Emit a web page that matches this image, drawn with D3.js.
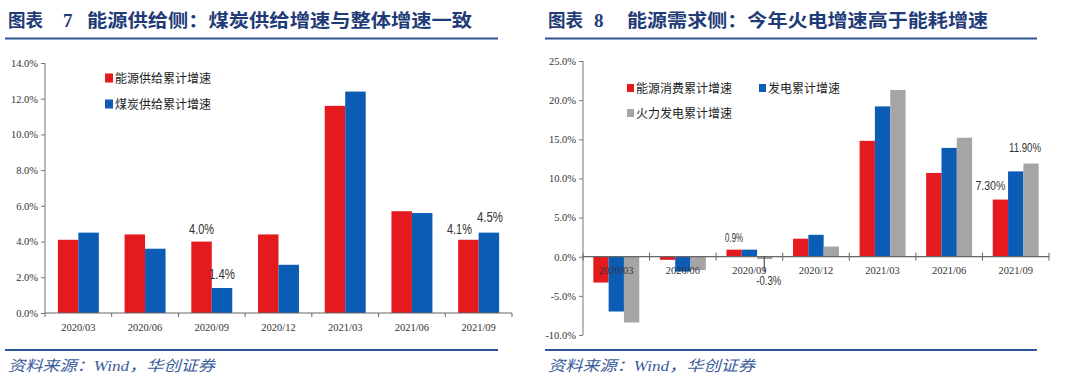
<!DOCTYPE html>
<html><head><meta charset="utf-8">
<script src="https://cdn.jsdelivr.net/npm/d3@7"></script>
<style>body{margin:0;background:#fff}svg{display:block}</style>
</head><body>
<svg id="c" width="1080" height="378"></svg>
<script>
// ---------- data ----------
const categories = ["2020/03","2020/06","2020/09","2020/12","2021/03","2021/06","2021/09"];
const leftSeriesNames = ["能源供给累计增速","煤炭供给累计增速"];
const energySupply = [4.1, 4.4, 4.0, 4.4, 11.6, 5.7, 4.1];
const coalSupply   = [4.5, 3.6, 1.4, 2.7, 12.4, 5.6, 4.5];
const leftTicks = [0,2,4,6,8,10,12,14];

const rightSeriesNames = ["能源消费累计增速","发电累计增速","火力发电累计增速"];
const energyConsumption = [-3.3, -0.4, 0.9, 2.3, 14.8, 10.7, 7.3];
const powerGeneration   = [-7.0, -1.9, 0.9, 2.8, 19.2, 13.9, 10.9];
const thermalPower      = [-8.4, -1.7, -0.3, 1.3, 21.3, 15.2, 11.9];
const rightTicks = [-10,-5,0,5,10,15,20,25];

const leftLabels = [
  {series:0, cat:"2020/09", text:"4.0%"},
  {series:1, cat:"2020/09", text:"1.4%"},
  {series:0, cat:"2021/09", text:"4.1%"},
  {series:1, cat:"2021/09", text:"4.5%"}
];
const rightLabels = [
  {series:0, cat:"2020/09", text:"0.9%"},
  {series:2, cat:"2020/09", text:"-0.3%"},
  {series:0, cat:"2021/09", text:"7.30%"},
  {series:2, cat:"2021/09", text:"11.90%"}
];

const RED = "#e41a1f", BLUE = "#0b5cb5", GRAY = "#a5a5a5";
const TITLE_COLOR = "#1f3c78", LINE_COLOR = "#2e5596";
const svg = d3.select("#c");
const CJK = "'Noto Sans CJK SC', sans-serif";
const SERIF = "'Liberation Serif', 'Times New Roman', serif";
const SANS = "'Liberation Sans', Arial, sans-serif";

// ---------- frame: titles, lines, sources ----------
function frame(x0, x1, num, rest, numX, restX, restLen) {
  const g = svg.append("g");
  g.append("text").attr("x", x0 + 8).attr("y", 27).text("图表")
    .attr("font-family", CJK).attr("font-weight", 700).attr("font-size", 18)
    .attr("fill", TITLE_COLOR).attr("textLength", 35).attr("lengthAdjust","spacingAndGlyphs");
  g.append("text").attr("x", numX).attr("y", 27).text(num)
    .attr("font-family", SERIF).attr("font-weight", 700).attr("font-size", 19)
    .attr("fill", TITLE_COLOR);
  g.append("text").attr("x", restX).attr("y", 27).text(rest)
    .attr("font-family", CJK).attr("font-weight", 700).attr("font-size", 18)
    .attr("fill", TITLE_COLOR).attr("textLength", restLen).attr("lengthAdjust","spacingAndGlyphs");
  g.append("line").attr("x1", x0 + 5).attr("x2", x1).attr("y1", 38.5).attr("y2", 38.5)
    .attr("stroke", LINE_COLOR).attr("stroke-width", 2);
  g.append("line").attr("x1", x0 + 5).attr("x2", x1).attr("y1", 350).attr("y2", 350)
    .attr("stroke", LINE_COLOR).attr("stroke-width", 2);
  const src = g.append("text").attr("x", x0 + 8).attr("y", 371)
    .attr("font-size", 15).attr("fill", "#3a5c9c").attr("font-style", "italic")
    .attr("textLength", 207).attr("lengthAdjust","spacingAndGlyphs");
  src.append("tspan").attr("font-family", CJK).text("资料来源：");
  src.append("tspan").attr("font-family", SERIF).text("Wind");
  src.append("tspan").attr("font-family", CJK).text("，华创证券");
}
frame(0, 498, "7", "能源供给侧：煤炭供给增速与整体增速一致", 63, 87, 385);
frame(540, 1037, "8", "能源需求侧：今年火电增速高于能耗增速", 594, 627, 361);

// ---------- generic grouped bar chart ----------
function chart(opt) {
  const g = svg.append("g");
  const y = d3.scaleLinear().domain(opt.domain).range([opt.yBottom, opt.yTop]);
  const x0 = d3.scaleBand().domain(categories).range([opt.xLeft, opt.xRight]).padding(0);
  const inset = x0.bandwidth() * opt.inset;
  const x1 = d3.scaleBand().domain(d3.range(opt.series.length))
    .range([inset, x0.bandwidth() - inset]).padding(0);

  opt.series.forEach((vals, si) => {
    g.append("g").selectAll("rect").data(vals).join("rect")
      .attr("x", (d, i) => x0(categories[i]) + x1(si))
      .attr("width", x1.bandwidth())
      .attr("y", d => y(Math.max(0, d)))
      .attr("height", d => Math.abs(y(d) - y(0)))
      .attr("fill", opt.colors[si]);
  });

  const ya = g.append("g").attr("transform", `translate(${opt.xLeft},0)`)
    .call(d3.axisLeft(y).tickValues(opt.ticks).tickFormat(d => d.toFixed(1) + "%").tickSize(4).tickPadding(3));
  ya.select(".domain").attr("stroke", "#777").attr("d", `M0,${opt.yTop}V${opt.yBottom}`);
  ya.selectAll(".tick line").attr("stroke", "#777");
  ya.selectAll(".tick text").attr("font-family", SERIF).attr("font-size", 10.5).attr("fill", "#333");

  const yz = y(0);
  g.append("line").attr("x1", opt.xLeft).attr("x2", opt.xRight).attr("y1", yz).attr("y2", yz)
    .attr("stroke", "#666").attr("stroke-width", 1.2);
  const bounds = categories.map(c => x0(c)).concat([opt.xRight]);
  g.append("g").selectAll("line").data(bounds).join("line")
    .attr("x1", d => d).attr("x2", d => d)
    .attr("y1", yz + opt.tickUp).attr("y2", yz + 4)
    .attr("stroke", "#666");
  g.append("g").selectAll("text").data(categories).join("text")
    .attr("x", d => x0(d) + x0.bandwidth() / 2)
    .attr("y", yz + opt.labelDy)
    .attr("text-anchor", "middle")
    .attr("font-family", SERIF).attr("font-size", 10.5).attr("fill", "#333")
    .text(d => d);

  opt.legend.forEach((L, i) => {
    g.append("rect").attr("x", L.x).attr("y", L.y - opt.sq / 2).attr("width", opt.sq - 1).attr("height", opt.sq)
      .attr("fill", opt.colors[i]);
    g.append("text").attr("x", L.x + opt.sq + 1).attr("y", L.y + 4.5)
      .attr("font-family", CJK).attr("font-size", 12).attr("fill", "#222")
      .text(opt.names[i]);
  });

  return {x0, x1, y, g};
}

// left chart
const L = chart({
  domain: [0, 14], yTop: 63, yBottom: 313, xLeft: 45, xRight: 512,
  ticks: leftTicks, series: [energySupply, coalSupply], colors: [RED, BLUE],
  names: leftSeriesNames, inset: 0.193, tickUp: 0, labelDy: 18,
  sq: 9, legend: [{x: 105, y: 78}, {x: 105, y: 104}]
});
const leftVals = [energySupply, coalSupply];
const leftPos = [ {dx:0, dy:-8, w:25}, {dx:0, dy:-9, w:26}, {dx:-9, dy:-6, w:25}, {dx:1, dy:-11, w:26} ];
leftLabels.forEach((lb, k) => {
  const i = categories.indexOf(lb.cat);
  const v = leftVals[lb.series][i];
  const cx = L.x0(lb.cat) + L.x1(lb.series) + L.x1.bandwidth() / 2 + leftPos[k].dx;
  L.g.append("text")
    .attr("x", cx - leftPos[k].w / 2)
    .attr("y", L.y(v) + leftPos[k].dy)
    .attr("font-family", SANS).attr("font-size", 14)
    .attr("textLength", leftPos[k].w).attr("lengthAdjust", "spacingAndGlyphs")
    .attr("fill", "#333").text(lb.text);
});

// right chart
const R = chart({
  domain: [-10, 25], yTop: 61, yBottom: 335, xLeft: 583, xRight: 1049,
  ticks: rightTicks, series: [energyConsumption, powerGeneration, thermalPower],
  colors: [RED, BLUE, GRAY], names: rightSeriesNames, inset: 0.155, tickUp: -4, labelDy: 17,
  sq: 8, legend: [{x: 627, y: 88}, {x: 759, y: 88}, {x: 627, y: 113}]
});
const rightVals = [energyConsumption, powerGeneration, thermalPower];
const rightPos = [ {dx:0, dy:-8, w:18}, {dx:4, dy:28, w:25}, {dx:-10, dy:-10, w:30}, {dx:-6, dy:-12, w:32} ];
rightLabels.forEach((lb, k) => {
  const i = categories.indexOf(lb.cat);
  const v = rightVals[lb.series][i];
  const cx = R.x0(lb.cat) + R.x1(lb.series) + R.x1.bandwidth() / 2;
  if (k === 1) {
    R.g.append("line").attr("x1", cx - 0.5).attr("x2", cx - 0.5)
      .attr("y1", R.y(0)).attr("y2", R.y(v) + 13).attr("stroke", "#333").attr("stroke-width", 1);
  }
  const tx = cx + rightPos[k].dx;
  R.g.append("text")
    .attr("x", tx - rightPos[k].w / 2)
    .attr("y", R.y(Math.max(v, 0)) + rightPos[k].dy)
    .attr("font-family", SANS).attr("font-size", 12)
    .attr("textLength", rightPos[k].w).attr("lengthAdjust", "spacingAndGlyphs")
    .attr("fill", "#333").text(lb.text);
});
</script>
</body></html>
